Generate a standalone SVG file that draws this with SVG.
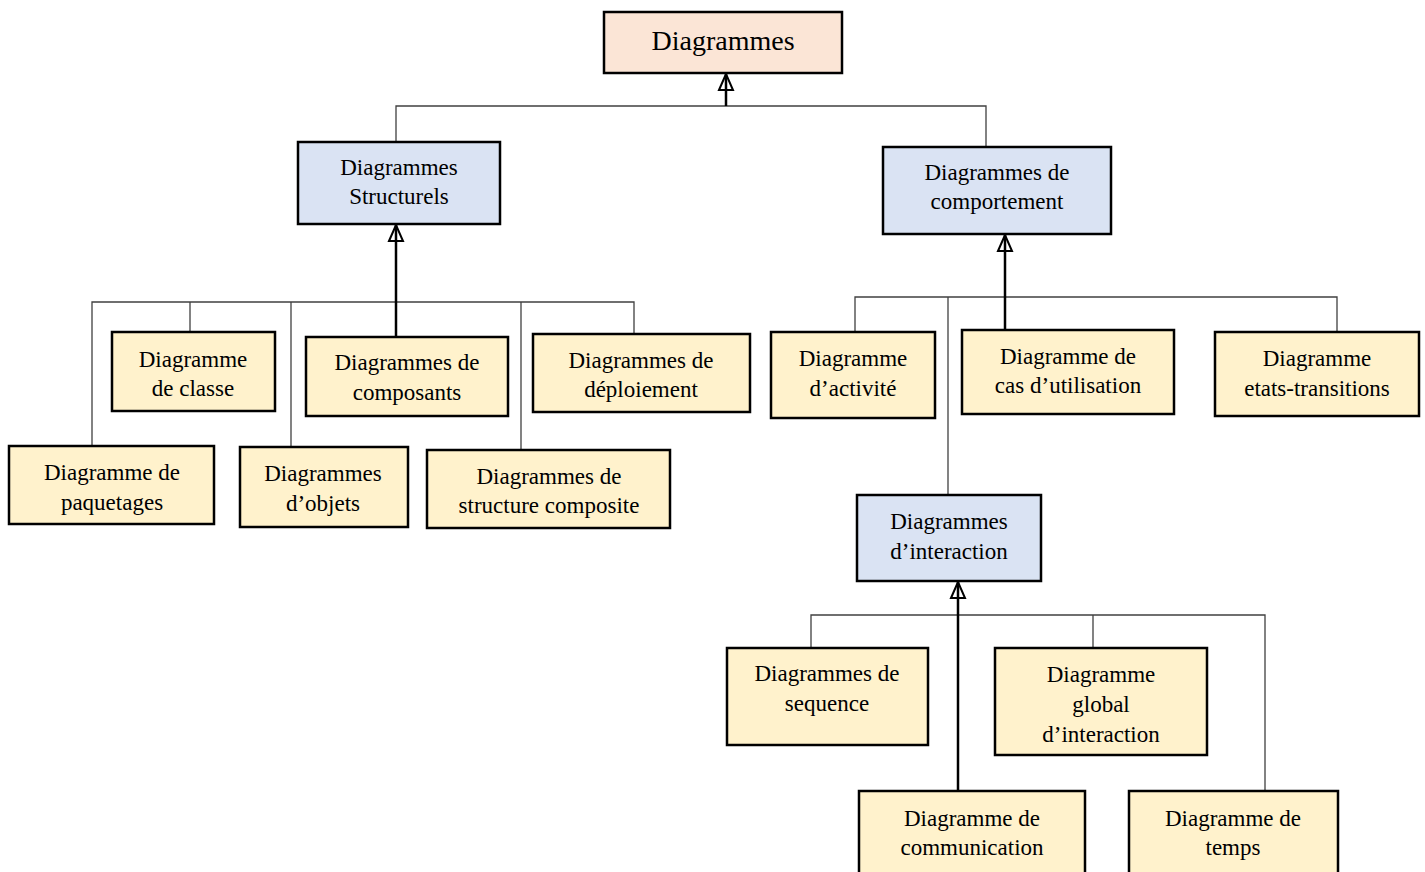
<svg xmlns="http://www.w3.org/2000/svg" width="1425" height="872" viewBox="0 0 1425 872">
  <style>
    .box { stroke: #000; stroke-width: 2.5; }
    .root { fill: #FBE5D6; }
    .group { fill: #DAE3F3; }
    .leaf { fill: #FFF2CC; }
    text { font-family: 'Liberation Serif', 'Times New Roman', serif; font-size: 23px; fill: #000; text-anchor: middle; }
    .big { font-size: 28px; }
    .link { fill: none; stroke: #404040; stroke-width: 1.3; }
    .gen { fill: none; stroke: #000; stroke-width: 2.5; marker-end: url(#hollow); }
  </style>
  <defs>
    <!-- hollow triangle head for generalisation links -->
    <marker id="hollow" viewBox="0 0 17 14" markerWidth="17" markerHeight="14" refX="16" refY="7" orient="auto" markerUnits="userSpaceOnUse" overflow="visible">
      <path d="M0,0 L16,7 L0,14 Z" fill="none" stroke="#000" stroke-width="2"/>
    </marker>
  </defs>

  <rect width="1425" height="872" fill="#fff"/>

  <g id="connectors">
    <!-- root level -->
    <path class="link" d="M396,142 V106 H986 V147"/>
    <path class="gen" d="M726,106 V74"/>
    <!-- structural branch -->
    <path class="link" d="M92,446 V302 H634 V333"/>
    <path class="link" d="M190,302 V332"/>
    <path class="link" d="M291,302 V447"/>
    <path class="link" d="M521,302 V450"/>
    <path class="gen" d="M396,337 V225"/>
    <!-- behavioural branch -->
    <path class="link" d="M855,332 V297 H1337 V332"/>
    <path class="link" d="M948,297 V495"/>
    <path class="gen" d="M1005,330 V235"/>
    <!-- interaction branch -->
    <path class="link" d="M811,648 V615 H1265 V791"/>
    <path class="link" d="M1093,615 V648"/>
    <path class="gen" d="M958,791 V582"/>
  </g>

  <g id="n-diagrammes">
    <rect class="box root" x="604" y="12" width="238" height="61"/>
    <text class="big" x="723" y="50">Diagrammes</text>
  </g>

  <g id="n-structurels">
    <rect class="box group" x="298" y="142" width="202" height="82"/>
    <text x="399" y="175">Diagrammes</text>
    <text x="399" y="204">Structurels</text>
  </g>

  <g id="n-comportement">
    <rect class="box group" x="883" y="147" width="228" height="87"/>
    <text x="997" y="180">Diagrammes de</text>
    <text x="997" y="209">comportement</text>
  </g>

  <g id="n-classe">
    <rect class="box leaf" x="112" y="332" width="163" height="79"/>
    <text x="193" y="367">Diagramme</text>
    <text x="193" y="396">de classe</text>
  </g>

  <g id="n-composants">
    <rect class="box leaf" x="306" y="337" width="202" height="79"/>
    <text x="407" y="370">Diagrammes de</text>
    <text x="407" y="400">composants</text>
  </g>

  <g id="n-deploiement">
    <rect class="box leaf" x="533" y="334" width="217" height="78"/>
    <text x="641" y="368">Diagrammes de</text>
    <text x="641" y="397">déploiement</text>
  </g>

  <g id="n-paquetages">
    <rect class="box leaf" x="9" y="446" width="205" height="78"/>
    <text x="112" y="480">Diagramme de</text>
    <text x="112" y="510">paquetages</text>
  </g>

  <g id="n-objets">
    <rect class="box leaf" x="240" y="447" width="168" height="80"/>
    <text x="323" y="481">Diagrammes</text>
    <text x="323" y="511">d’objets</text>
  </g>

  <g id="n-structure-composite">
    <rect class="box leaf" x="427" y="450" width="243" height="78"/>
    <text x="549" y="484">Diagrammes de</text>
    <text x="549" y="513">structure composite</text>
  </g>

  <g id="n-activite">
    <rect class="box leaf" x="771" y="332" width="164" height="86"/>
    <text x="853" y="366">Diagramme</text>
    <text x="853" y="396">d’activité</text>
  </g>

  <g id="n-cas-utilisation">
    <rect class="box leaf" x="962" y="330" width="212" height="84"/>
    <text x="1068" y="364">Diagramme de</text>
    <text x="1068" y="393">cas d’utilisation</text>
  </g>

  <g id="n-etats-transitions">
    <rect class="box leaf" x="1215" y="332" width="204" height="84"/>
    <text x="1317" y="366">Diagramme</text>
    <text x="1317" y="396">etats-transitions</text>
  </g>

  <g id="n-interaction">
    <rect class="box group" x="857" y="495" width="184" height="86"/>
    <text x="949" y="529">Diagrammes</text>
    <text x="949" y="559">d’interaction</text>
  </g>

  <g id="n-sequence">
    <rect class="box leaf" x="727" y="648" width="201" height="97"/>
    <text x="827" y="681">Diagrammes de</text>
    <text x="827" y="711">sequence</text>
  </g>

  <g id="n-global-interaction">
    <rect class="box leaf" x="995" y="648" width="212" height="107"/>
    <text x="1101" y="682">Diagramme</text>
    <text x="1101" y="712">global</text>
    <text x="1101" y="742">d’interaction</text>
  </g>

  <g id="n-communication">
    <rect class="box leaf" x="859" y="791" width="226" height="90"/>
    <text x="972" y="826">Diagramme de</text>
    <text x="972" y="855">communication</text>
  </g>

  <g id="n-temps">
    <rect class="box leaf" x="1129" y="791" width="209" height="90"/>
    <text x="1233" y="826">Diagramme de</text>
    <text x="1233" y="855">temps</text>
  </g>
</svg>
